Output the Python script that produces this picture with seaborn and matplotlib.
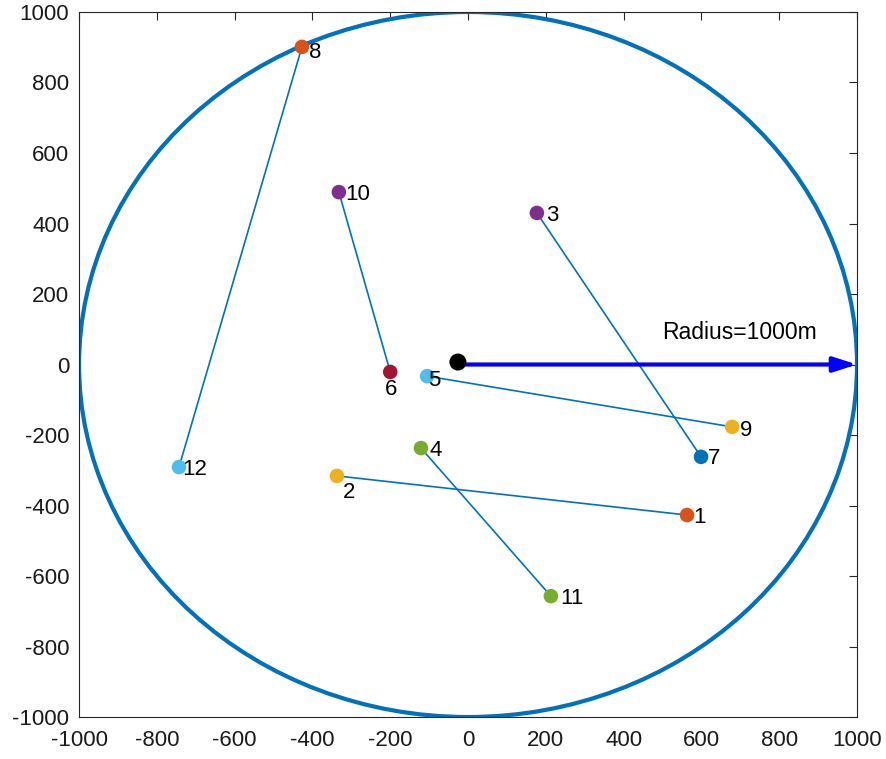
import matplotlib
matplotlib.use("Agg")
import matplotlib.pyplot as plt
from matplotlib.patches import Circle
import seaborn as sns
import pandas as pd

# Node coordinates (m)
node_ids = [1, 2, 3, 4, 5, 6, 7, 8, 9, 10, 11, 12]
node_x = [563, -337, 177, -121, -105, -200, 599, -427, 679, -332, 213, -743]
node_y = [-427, -316, 430, -237, -33, -21, -262, 901, -177, 489, -657, -291]

# Label anchor positions (m)
label_x = [578, -321, 200, -98, -103, -213, 617, -409, 699, -316, 236, -735]
label_y = [-433, -362, 424, -243, -44, -70, -268, 884, -186, 481, -665, -299]

# Linked node pairs
links = [(2, 1), (4, 11), (3, 7), (5, 9), (10, 6), (8, 12)]

# Base station and coverage
bs_x, bs_y = -26, 7
radius = 1000

matlab_colors = [
    (0.850, 0.325, 0.098), (0.929, 0.694, 0.125), (0.494, 0.184, 0.556),
    (0.466, 0.674, 0.188), (0.301, 0.745, 0.933), (0.635, 0.078, 0.184),
    (0.000, 0.447, 0.741),
]
node_colors = [matlab_colors[(i - 1) % 7] for i in node_ids]
line_blue = (0.000, 0.447, 0.741)

sns.set_style("white")
plt.rcParams["font.family"] = ["Liberation Sans", "DejaVu Sans"]
plt.rcParams["axes.unicode_minus"] = False

fig = plt.figure(figsize=(8.86, 7.59), dpi=100)
ax = fig.add_axes([0.0892, 0.0553, 0.9673 - 0.0892, 0.9842 - 0.0553])

df = pd.DataFrame({"x": node_x, "y": node_y, "id": [str(i) for i in node_ids]})

# Link segments
for a, b in links:
    seg = pd.DataFrame({"x": [node_x[a - 1], node_x[b - 1]],
                        "y": [node_y[a - 1], node_y[b - 1]]})
    sns.lineplot(data=seg, x="x", y="y", ax=ax, color=line_blue, lw=1.2,
                 sort=False, estimator=None, zorder=3)

# Coverage circle
ax.add_patch(Circle((0, 0), radius, fill=False, ec=line_blue, lw=3, zorder=2))

# Nodes
sns.scatterplot(data=df, x="x", y="y", hue="id", palette=node_colors,
                s=110, edgecolor="none", legend=False, ax=ax, zorder=4)

for i, nid in enumerate(node_ids):
    ax.text(label_x[i], label_y[i], str(nid), fontsize=16, ha="left",
            va="center", color="black", zorder=5)

# Base station
sns.scatterplot(x=[bs_x], y=[bs_y], color="black", s=150, edgecolor="none",
                ax=ax, zorder=6)

# Radius arrow
ax.annotate("", xy=(radius, 0), xytext=(bs_x + 10, 0),
            arrowprops=dict(arrowstyle="-|>,head_length=1.4,head_width=0.45",
                            color=(0, 0, 1), lw=3, shrinkA=0, shrinkB=0),
            zorder=5)
ax.text(499, 92, "Radius=1000m", fontsize=16.5, ha="left", va="center",
        color="black")

ax.set_xlim(-1000, 1000)
ax.set_ylim(-1000, 1000)
ticks = list(range(-1000, 1001, 200))
ax.set_xticks(ticks)
ax.set_yticks(ticks)
ax.set_xlabel("")
ax.set_ylabel("")
ax.tick_params(direction="in", length=6, width=0.8, color=(0.15, 0.15, 0.15),
               labelsize=16, labelcolor=(0.1, 0.1, 0.1), top=True, right=True)
ax.tick_params(axis="x", pad=9)
ax.tick_params(axis="y", pad=7)
for s in ax.spines.values():
    s.set_color((0.15, 0.15, 0.15))
    s.set_linewidth(0.8)

fig.savefig("out.png", dpi=100)
